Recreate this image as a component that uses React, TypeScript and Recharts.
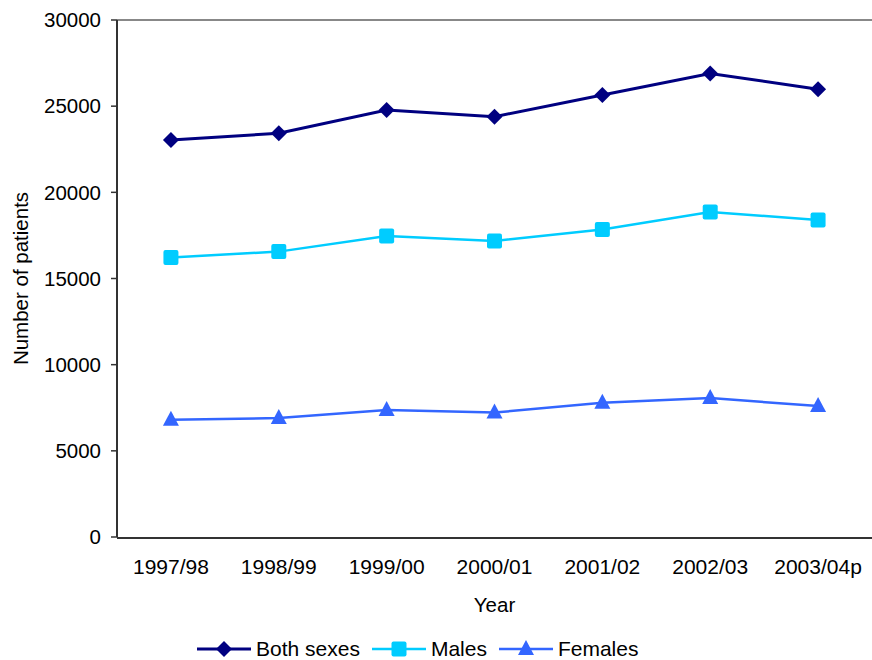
import { LineChart, Line, XAxis, YAxis, ReferenceLine, Label } from 'recharts';

const YEARS = ['1997/98', '1998/99', '1999/00', '2000/01', '2001/02', '2002/03', '2003/04p'];
const BOTH = [23040, 23430, 24780, 24390, 25650, 26900, 25980];
const MALES = [16220, 16560, 17470, 17180, 17840, 18860, 18390];
const FEMALES = [6800, 6900, 7370, 7220, 7790, 8060, 7600];
const Y_TICKS = [0, 5000, 10000, 15000, 20000, 25000, 30000];
const BOUNDS = [0, 1, 2, 3, 4, 5, 6, 7];

const SERIES = [
    { key: 'both', name: 'Both sexes', color: '#000080', width: 3, shape: 'diamond' },
    { key: 'males', name: 'Males', color: '#00CCFF', width: 2.5, shape: 'square' },
    { key: 'females', name: 'Females', color: '#3366FF', width: 2.5, shape: 'triangle' },
];

const data = YEARS.map((year, i) => ({
    year,
    both: BOTH[i],
    males: MALES[i],
    females: FEMALES[i],
}));

function Marker({ shape, color, cx, cy }: { shape: string; color: string; cx: number; cy: number }) {
    if (shape === 'diamond') {
        return <polygon points={`${cx},${cy - 8} ${cx + 8},${cy} ${cx},${cy + 8} ${cx - 8},${cy}`} fill={color} />;
    }
    if (shape === 'square') {
        return <rect x={cx - 7.5} y={cy - 7.5} width={15} height={15} rx={2} fill={color} />;
    }
    return <polygon points={`${cx},${cy - 9} ${cx + 8},${cy + 6} ${cx - 8},${cy + 6}`} fill={color} />;
}

const AXIS = '#333';
const FONT = '"Liberation Sans", Arial, sans-serif';

export default function App() {
    return (
        <div style={{ position: 'absolute', left: 0, top: 0, width: 872, height: 660, fontFamily: FONT, background: '#fff' }}>
            <LineChart width={872} height={660} data={data} margin={{ top: 20, right: 0, bottom: 121, left: 0 }}>
                <XAxis
                    xAxisId="ticks"
                    type="number"
                    domain={[0, 7]}
                    ticks={BOUNDS}
                    interval={0}
                    tick={false}
                    tickSize={6}
                    height={1}
                    stroke={AXIS}
                    axisLine={{ stroke: AXIS, strokeWidth: 2 }}
                    tickLine={{ stroke: AXIS, strokeWidth: 1.5 }}
                />
                <XAxis
                    xAxisId="cat"
                    dataKey="year"
                    scale="band"
                    height={1}
                    interval={0}
                    axisLine={false}
                    tickLine={false}
                    tickSize={0}
                    tickMargin={22}
                    tick={{ fill: '#000', fontSize: 21 }}
                >
                    <Label value="Year" position="bottom" offset={59} style={{ fill: '#000', fontSize: 20.5 }} />
                </XAxis>
                <YAxis
                    width={117}
                    domain={[0, 30000]}
                    ticks={Y_TICKS}
                    interval={0}
                    tickSize={6}
                    tickMargin={10}
                    tick={{ fill: '#000', fontSize: 20.5 }}
                    axisLine={{ stroke: AXIS, strokeWidth: 2 }}
                    tickLine={{ stroke: AXIS, strokeWidth: 1.5 }}
                >
                    <Label
                        value="Number of patients"
                        angle={-90}
                        position="insideLeft"
                        offset={21}
                        textAnchor="middle"
                        style={{ fill: '#000', fontSize: 20.5, textAnchor: 'middle' }}
                    />
                </YAxis>
                <ReferenceLine xAxisId="cat" y={30000} stroke="#888" strokeWidth={2} />
                {SERIES.map((s) => (
                    <Line
                        key={s.key}
                        xAxisId="cat"
                        dataKey={s.key}
                        name={s.name}
                        stroke={s.color}
                        strokeWidth={s.width}
                        isAnimationActive={false}
                        dot={(p: any) => <Marker key={`${s.key}-${p.index}`} shape={s.shape} color={s.color} cx={p.cx} cy={p.cy} />}
                        activeDot={false}
                    />
                ))}
            </LineChart>

            {/* Legend */}
            <div style={{ position: 'absolute', left: 197, top: 637, display: 'flex', alignItems: 'center', gap: 12, fontSize: 21, lineHeight: '24px', color: '#000' }}>
                {SERIES.map((s) => (
                    <div key={s.key} style={{ display: 'flex', alignItems: 'center', gap: 5 }}>
                        <svg width={54} height={20}>
                            <line x1={0} y1={10} x2={54} y2={10} stroke={s.color} strokeWidth={s.width} />
                            <Marker shape={s.shape} color={s.color} cx={27} cy={10} />
                        </svg>
                        <span>{s.name}</span>
                    </div>
                ))}
            </div>
        </div>
    );
}
